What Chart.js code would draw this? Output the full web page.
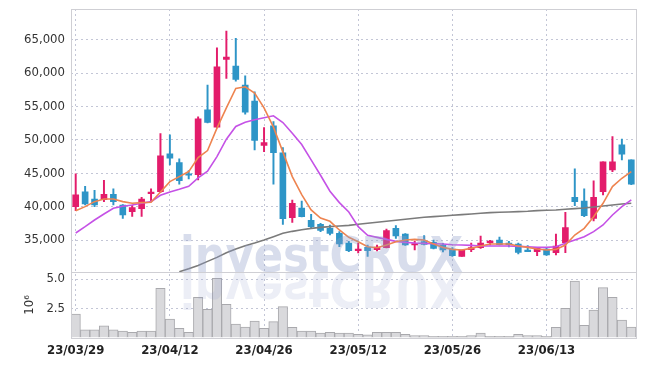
<!DOCTYPE html>
<html>
<head>
<meta charset="utf-8">
<script src="https://cdn.jsdelivr.net/npm/chart.js@4.4.1/dist/chart.umd.min.js"></script>
<style>
  html, body { margin: 0; padding: 0; background: #fff; }
  #wrap { width: 645px; height: 366px; position: relative; }
</style>
</head>
<body>
<div id="wrap"><canvas id="stockChart"></canvas></div>
<script>
const dates = [
    "23/03/29", "23/03/30", "23/03/31", "23/04/03", "23/04/04", "23/04/05", "23/04/06", "23/04/07", "23/04/10", "23/04/11",
    "23/04/12", "23/04/13", "23/04/14", "23/04/17", "23/04/18", "23/04/19", "23/04/20", "23/04/21", "23/04/24", "23/04/25",
    "23/04/26", "23/04/27", "23/04/28", "23/05/02", "23/05/03", "23/05/04", "23/05/08", "23/05/09", "23/05/10", "23/05/11",
    "23/05/12", "23/05/15", "23/05/16", "23/05/17", "23/05/18", "23/05/19", "23/05/22", "23/05/23", "23/05/24", "23/05/25",
    "23/05/26", "23/05/30", "23/05/31", "23/06/01", "23/06/02", "23/06/05", "23/06/07", "23/06/08", "23/06/09", "23/06/12",
    "23/06/13", "23/06/14", "23/06/15", "23/06/16", "23/06/19", "23/06/20", "23/06/21", "23/06/22", "23/06/23", "23/06/26",
];

const opens = [
    40000, 42200, 41150, 41050, 41850, 40250, 39250, 39700, 41950, 42250,
    47900, 46600, 44850, 44800, 54500, 51900, 62050, 61050, 58200, 55800,
    49150, 52100, 48050, 38350, 39800, 37950, 37350, 36750, 36000, 34550,
    33400, 33900, 33550, 33850, 36750, 35900, 34250, 34750, 34650, 34250,
    33650, 32550, 33550, 33850, 34600, 35000, 34550, 34400, 33500, 33250,
    33650, 33100, 34600, 41400, 40850, 38250, 42250, 45500, 49250, 47000,
];
const highs = [
    44900, 43050, 42450, 43950, 42650, 40300, 40250, 41400, 42650, 50950,
    50750, 47150, 45400, 53450, 58200, 63800, 66300, 65200, 59600, 57200,
    51850, 52750, 48850, 41000, 40850, 38850, 37500, 37250, 36250, 34800,
    34550, 34250, 34250, 36650, 37150, 35950, 34850, 35650, 35000, 34500,
    33850, 33500, 34550, 35600, 34950, 35450, 34800, 34550, 34150, 33850,
    33850, 35900, 39150, 45650, 42650, 43850, 46700, 50500, 50100, 47000,
];
const lows = [
    39400, 40250, 40000, 40750, 40250, 38250, 38550, 38550, 40750, 42100,
    46250, 43350, 44150, 44000, 52550, 51800, 59200, 58800, 53850, 48500,
    48250, 43350, 37350, 37650, 38450, 36750, 36250, 35750, 34000, 33250,
    33050, 32550, 33350, 33800, 35250, 34200, 33500, 34250, 33650, 33200,
    32550, 32550, 33250, 33750, 34250, 34250, 33950, 32900, 33250, 32650,
    32700, 32750, 33100, 40150, 38500, 37850, 41750, 45250, 47000, 43300,
];
const closes = [
    41750, 40400, 40250, 41850, 40750, 38750, 39850, 41150, 42050, 47600,
    47250, 43900, 44700, 53150, 52600, 60950, 62400, 59050, 54150, 49900,
    49600, 48100, 38200, 40500, 38500, 37000, 36450, 36000, 34400, 33400,
    33500, 33400, 33950, 36400, 35600, 34250, 34400, 34350, 33750, 33500,
    32650, 33500, 33850, 34550, 34850, 34300, 34300, 33150, 33250, 33750,
    32750, 34100, 36850, 40750, 38650, 41400, 46700, 46700, 47850, 43350,
];

// volume in millions of shares
const volumes = [
    2.0, 0.65, 0.65, 0.99, 0.65, 0.55, 0.45, 0.55, 0.55, 4.2,
    1.57, 0.79, 0.45, 3.44, 2.41, 5.06, 2.84, 1.14, 0.89, 1.4,
    0.79, 1.36, 2.64, 0.88, 0.55, 0.55, 0.37, 0.45, 0.37, 0.37,
    0.28, 0.22, 0.45, 0.45, 0.45, 0.28, 0.17, 0.17, 0.1, 0.1,
    0.1, 0.1, 0.17, 0.37, 0.1, 0.1, 0.1, 0.28, 0.17, 0.17,
    0.1, 0.88, 2.5, 4.83, 1.04, 2.35, 4.27, 3.44, 1.5, 0.9,
];

const maShort = [
    39400, 40000, 40750, 41150, 41150, 40750, 40500, 40600, 40650, 42200,
    43750, 44500, 45250, 47350, 48400, 51750, 54800, 57700, 57950, 57000,
    54800, 51900, 48200, 44500, 41800, 39500, 38300, 37800, 36500, 35400,
    34750, 34000, 33850, 34250, 34750, 35000, 35100, 35000, 34400, 33900,
    33600, 33500, 33750, 34100, 34400, 34400, 34400, 34100, 33900, 33650,
    33500, 33600, 34250, 35750, 36750, 38500, 40500, 43000, 44250, 45250,
];
const maMid = [
    36050, 37000, 38000, 38900, 39750, 40050, 40250, 40500, 40750, 41700,
    42200, 42600, 43050, 44300, 45300, 47500, 50100, 52000, 52650, 53000,
    53300, 53600, 52600, 51000, 49300, 47000, 44700, 42300, 40600, 39200,
    37000, 35700, 35400, 35100, 34800, 34650, 34550, 34500, 34450, 34400,
    34300, 34250, 34200, 34100, 34100, 34100, 34100, 34050, 34000, 33900,
    33900, 34000, 34500, 35000, 35500, 36250, 37250, 38750, 40000, 41000,
];
const maLong = [
    null, null, null, null, null, null, null, null, null, null,
    null, 30250, 30700, 31200, 31800, 32400, 33100, 33650, 34150, 34550,
    35000, 35500, 36000, 36300, 36550, 36750, 36900, 37000, 37100, 37200,
    37350, 37500, 37650, 37800, 37950, 38100, 38250, 38400, 38500, 38600,
    38700, 38800, 38900, 39000, 39100, 39150, 39200, 39250, 39300, 39400,
    39450, 39500, 39600, 39700, 39800, 39950, 40100, 40250, 40400, 40500,
];

const priceTicks = [35000, 40000, 45000, 50000, 55000, 60000, 65000];
const volumeTicks = [2.5, 5.0];

const upColor = "#e31c6b";
const downColor = "#2e95c7";
const gridColor = "#c3c6d6";
const frameColor = "#cfcfd4";
const tickFont = { family: "'DejaVu Sans Condensed', 'DejaVu Sans', sans-serif", size: 13 };

const candleColor = (ctx) =>
    closes[ctx.dataIndex] >= opens[ctx.dataIndex] ? upColor : downColor;

const framePlugin = {
    id: "frame",
    afterDatasetsDraw: (chart) => {
        const { ctx, chartArea } = chart;
        const split = chart.scales.y.bottom;
        // watermark with its reflection
        ctx.save();
        ctx.font = "bold 50px 'DejaVu Sans', sans-serif";
        const text = "investCRUX";
        const w = ctx.measureText(text).width;
        const sx = 283 / w;
        ctx.translate(180, split);
        ctx.scale(sx, 1);
        ctx.textBaseline = "alphabetic";
        ctx.fillStyle = "rgba(140, 156, 200, 0.34)";
        ctx.fillText(text, 0, 0);
        ctx.scale(1, -1);
        ctx.fillStyle = "rgba(140, 156, 200, 0.17)";
        ctx.fillText(text, 0, 0);
        ctx.restore();

        ctx.save();
        ctx.strokeStyle = frameColor;
        ctx.lineWidth = 1;
        ctx.strokeRect(
            Math.round(chartArea.left) + 0.5,
            Math.round(chartArea.top) + 0.5,
            Math.round(chartArea.right - chartArea.left),
            Math.round(chartArea.bottom - chartArea.top)
        );
        ctx.beginPath();
        ctx.moveTo(chartArea.left, Math.round(split) + 0.5);
        ctx.lineTo(chartArea.right, Math.round(split) + 0.5);
        ctx.stroke();
        ctx.restore();
    },
};

const fitYAxis = (s) => {
    s.width = 71;
    s.paddingTop = 0;
    s.paddingBottom = 0;
};

const chartCtx = document.getElementById("stockChart").getContext("2d");
const stockChart = new Chart(chartCtx, {
    type: "bar",
    data: {
        labels: dates,
        datasets: [
            {
                type: "line",
                data: maShort,
                borderColor: "#ee8450",
                borderWidth: 1.6,
                pointRadius: 0,
                yAxisID: "y",
                order: 0,
            },
            {
                type: "line",
                data: maMid,
                borderColor: "#c552e6",
                borderWidth: 1.6,
                pointRadius: 0,
                yAxisID: "y",
                order: 0,
            },
            {
                type: "line",
                data: maLong,
                borderColor: "#7b7b7b",
                borderWidth: 1.6,
                pointRadius: 0,
                yAxisID: "y",
                order: 0,
            },
            {
                data: dates.map((d, i) => [lows[i], highs[i]]),
                backgroundColor: candleColor,
                barThickness: 1.3,
                grouped: false,
                yAxisID: "y",
                order: 2,
            },
            {
                data: dates.map((d, i) => [opens[i], closes[i]]),
                backgroundColor: candleColor,
                barThickness: 6,
                minBarLength: 1.5,
                grouped: false,
                yAxisID: "y",
                order: 1,
            },
            {
                data: volumes,
                backgroundColor: "#d9d9dc",
                borderColor: "#a9a9ad",
                borderWidth: 1,
                barPercentage: 1,
                categoryPercentage: 1,
                grouped: false,
                yAxisID: "yVol",
                order: 3,
            },
        ],
    },
    options: {
        responsive: true,
        maintainAspectRatio: false,
        animation: false,
        layout: { padding: { top: 9, right: 9, left: 0, bottom: 0 } },
        plugins: {
            legend: { display: false },
            tooltip: { enabled: false },
        },
        scales: {
            x: {
                offset: true,
                grid: {
                    offset: false,
                    drawTicks: false,
                    color: (c) => (c.index % 10 === 0 ? gridColor : "transparent"),
                },
                border: { display: false, dash: [2, 3] },
                ticks: {
                    autoSkip: false,
                    maxRotation: 0,
                    padding: 5,
                    color: "#222",
                    font: { ...tickFont, weight: "bold" },
                    callback: (v, i) => (i % 10 === 0 ? dates[i] : ""),
                },
                afterFit: (s) => {
                    s.height = 28.5;
                },
            },
            yVol: {
                stack: "panes",
                stackWeight: 65,
                min: 0,
                max: 5.57,
                afterBuildTicks: (s) => {
                    s.ticks = volumeTicks.map((v) => ({ value: v }));
                },
                grid: { drawTicks: false, color: gridColor },
                border: { display: false, dash: [2, 3] },
                ticks: {
                    padding: 6,
                    color: "#333",
                    font: tickFont,
                    callback: (v) => v.toFixed(1),
                },
                title: {
                    display: true,
                    text: "10⁶",
                    color: "#333",
                    font: tickFont,
                    padding: { top: 22, bottom: 0 },
                },
                afterFit: fitYAxis,
            },
            y: {
                stack: "panes",
                stackWeight: 263,
                min: 30150,
                max: 69600,
                afterBuildTicks: (s) => {
                    s.ticks = priceTicks.map((v) => ({ value: v }));
                },
                grid: { drawTicks: false, color: gridColor },
                border: { display: false, dash: [2, 3] },
                ticks: {
                    padding: 6,
                    color: "#333",
                    font: tickFont,
                    callback: (v) => v.toLocaleString("en-US"),
                },
                afterFit: fitYAxis,
            },
        },
    },
    plugins: [framePlugin],
});
</script>
</body>
</html>
